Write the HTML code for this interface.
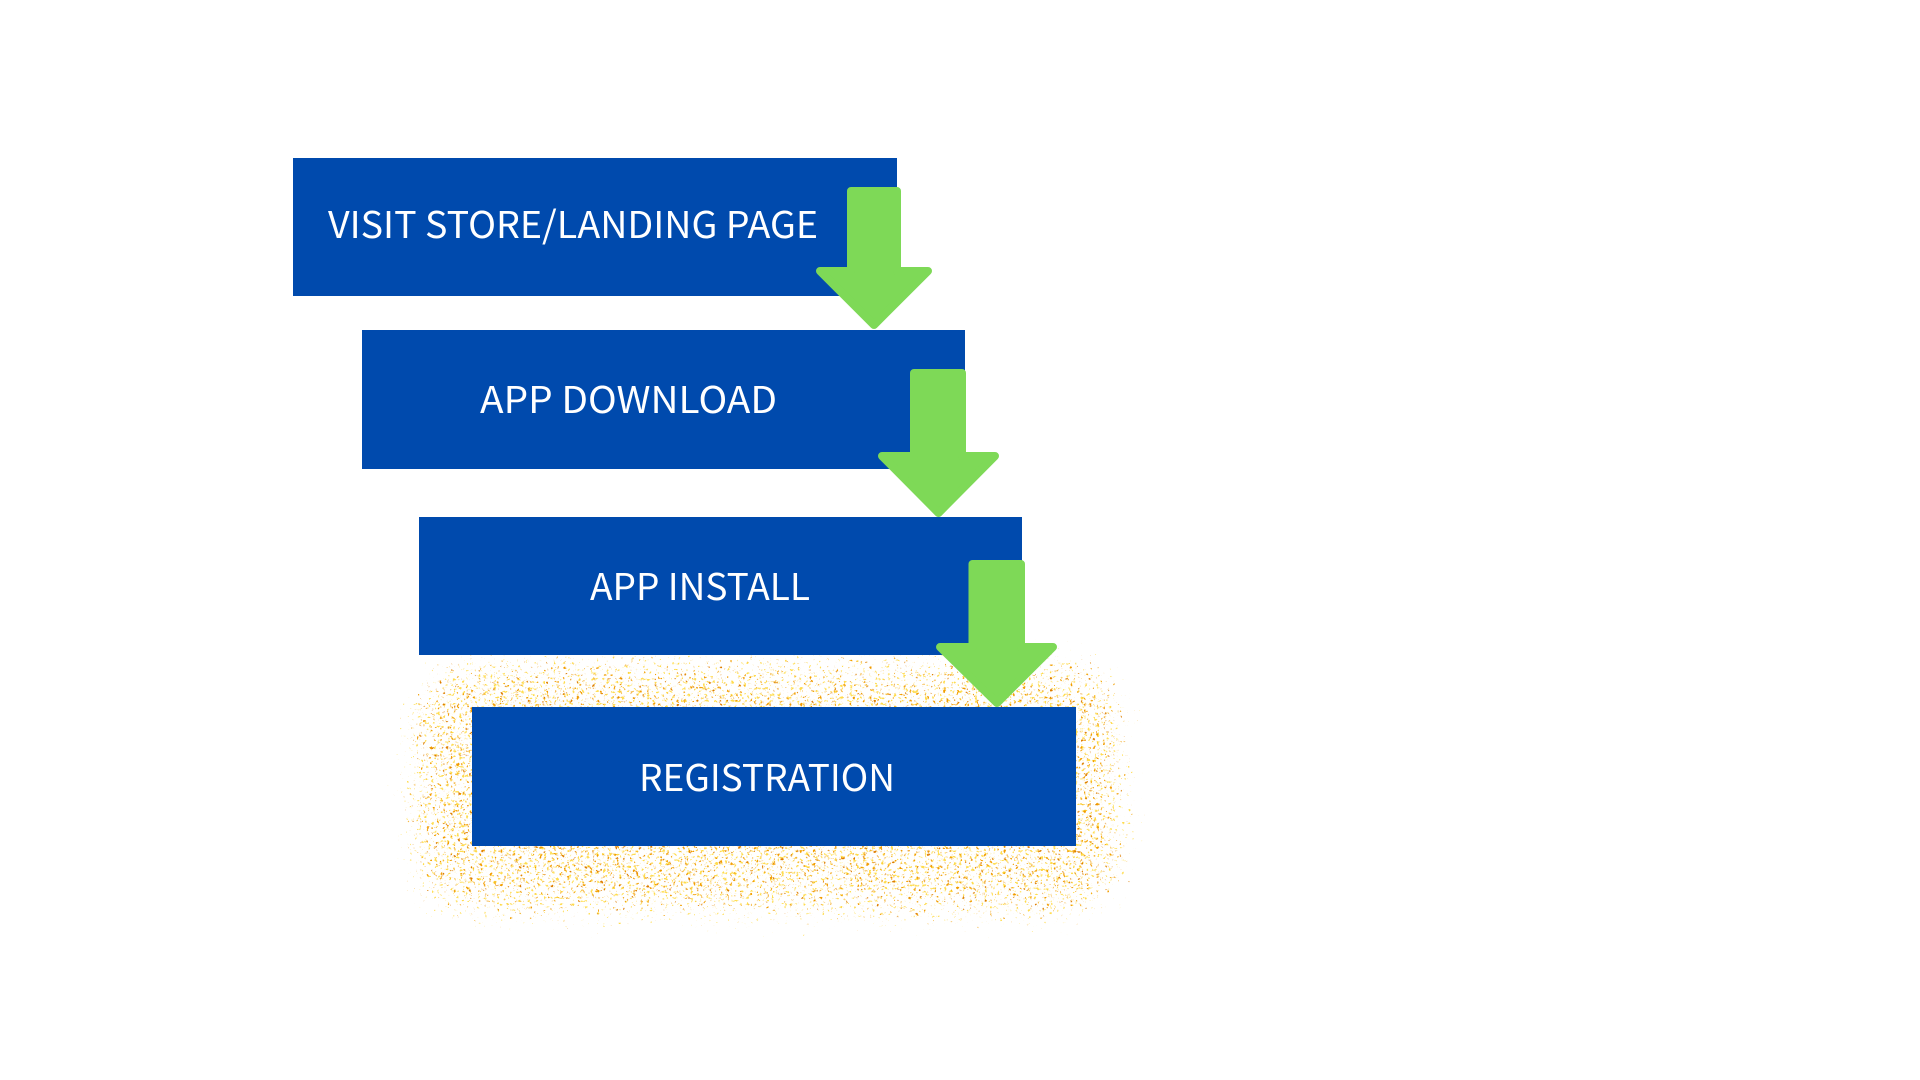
<!DOCTYPE html>
<html lang="en">
<head>
<meta charset="utf-8">
<title>App funnel</title>
<style>
html,body{margin:0;padding:0;background:#fff;width:1920px;height:1080px;overflow:hidden}
svg{display:block}
text{font-family:"Noto Sans CJK JP","Liberation Sans",sans-serif;font-size:37px;fill:#fff}
</style>
</head>
<body>
<svg width="1920" height="1080" viewBox="0 0 1920 1080" xmlns="http://www.w3.org/2000/svg">
<defs>
<filter id="yellow" filterUnits="userSpaceOnUse" x="340" y="580" width="860" height="420" color-interpolation-filters="sRGB">
<feGaussianBlur in="SourceAlpha" stdDeviation="32" result="shape"/>
<feTurbulence type="fractalNoise" baseFrequency="0.32" numOctaves="2" seed="11"/>
<feColorMatrix values="0 0 0 0 0 0 0 0 0 0 0 0 0 0 0 1 0 0 0 0" result="n"/>
<feComposite in="n" in2="shape" operator="arithmetic" k1="0" k2="1" k3="0.67" k4="-1.29"/>
<feComponentTransfer result="m"><feFuncA type="linear" slope="10" intercept="0"/></feComponentTransfer>
<feFlood flood-color="#ffdc4d"/>
<feComposite in2="m" operator="in"/>
</filter>
<filter id="orange" filterUnits="userSpaceOnUse" x="340" y="580" width="860" height="420" color-interpolation-filters="sRGB">
<feGaussianBlur in="SourceAlpha" stdDeviation="32" result="shape"/>
<feTurbulence type="fractalNoise" baseFrequency="0.3" numOctaves="2" seed="4"/>
<feColorMatrix values="0 0 0 0 0 0 0 0 0 0 0 0 0 0 0 1 0 0 0 0" result="n"/>
<feComposite in="n" in2="shape" operator="arithmetic" k1="0" k2="1" k3="0.67" k4="-1.32"/>
<feComponentTransfer result="m"><feFuncA type="linear" slope="10" intercept="0"/></feComponentTransfer>
<feFlood flood-color="#f29d00"/>
<feComposite in2="m" operator="in"/>
</filter>
<filter id="dark" filterUnits="userSpaceOnUse" x="340" y="580" width="860" height="420" color-interpolation-filters="sRGB">
<feGaussianBlur in="SourceAlpha" stdDeviation="32" result="shape"/>
<feTurbulence type="fractalNoise" baseFrequency="0.26" numOctaves="2" seed="23"/>
<feColorMatrix values="0 0 0 0 0 0 0 0 0 0 0 0 0 0 0 1 0 0 0 0" result="n"/>
<feComposite in="n" in2="shape" operator="arithmetic" k1="0" k2="1" k3="0.67" k4="-1.37"/>
<feComponentTransfer result="m"><feFuncA type="linear" slope="10" intercept="0"/></feComponentTransfer>
<feFlood flood-color="#dd7d00"/>
<feComposite in2="m" operator="in"/>
</filter>
</defs>

<!-- speckle halo -->
<rect x="375" y="625" width="785" height="325" rx="90" fill="#000" filter="url(#yellow)"/>
<rect x="375" y="625" width="785" height="325" rx="90" fill="#000" filter="url(#orange)"/>
<rect x="375" y="625" width="785" height="325" rx="90" fill="#000" filter="url(#dark)"/>

<!-- boxes -->
<rect x="293" y="158" width="604" height="138" fill="#004AAD"/>
<rect x="362" y="330" width="603" height="139" fill="#004AAD"/>
<rect x="419" y="517" width="603" height="138" fill="#004AAD"/>
<rect x="472" y="707" width="604" height="139" fill="#004AAD"/>

<!-- labels -->
<text x="328" y="238" textLength="490" lengthAdjust="spacingAndGlyphs">VISIT STORE/LANDING PAGE</text>
<text x="480" y="413" textLength="297" lengthAdjust="spacingAndGlyphs">APP DOWNLOAD</text>
<text x="590" y="600" textLength="220" lengthAdjust="spacingAndGlyphs">APP INSTALL</text>
<text x="639" y="791" textLength="256" lengthAdjust="spacingAndGlyphs">REGISTRATION</text>

<!-- arrows -->
<g fill="#7ED957" stroke="#7ED957" stroke-width="8" stroke-linejoin="round">
<polygon points="851,191 897,191 897,271 928,271 874,325 820,271 851,271"/>
<polygon points="914,373 962,373 962,456 995,456 938.5,513 882,456 914,456"/>
<polygon points="972.5,564 1021,564 1021,647 1053,647 997,703 940,647 972.5,647"/>
</g>
</svg>
</body>
</html>
